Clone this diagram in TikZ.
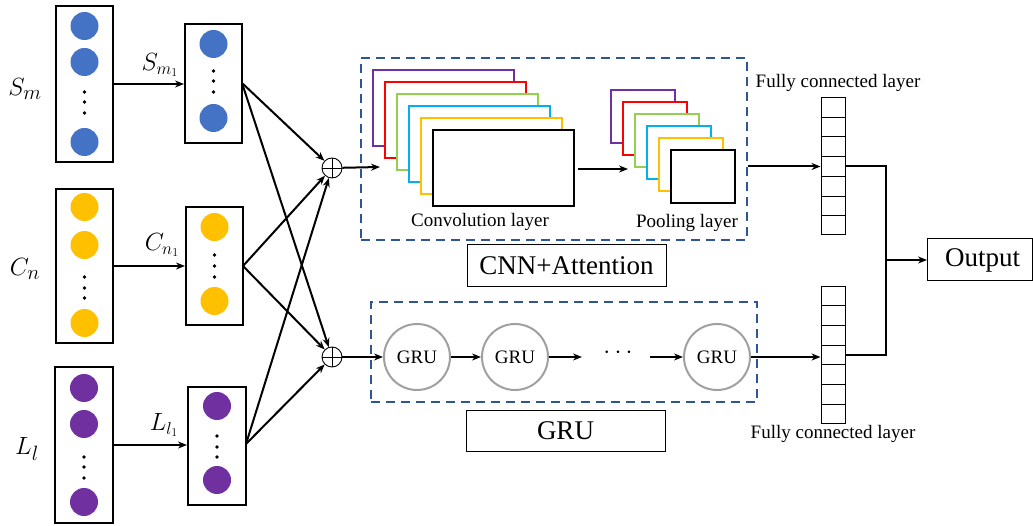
\documentclass[tikz,border=0pt]{standalone}
\usepackage{fontspec}
\setmainfont{Liberation Serif}
\usetikzlibrary{arrows.meta,calc}
\definecolor{cblue}{HTML}{4472C4}
\definecolor{cyel}{HTML}{FFC000}
\definecolor{cpur}{HTML}{7030A0}
\definecolor{cred}{HTML}{FF0000}
\definecolor{cgreen}{HTML}{92D050}
\definecolor{ccyan}{HTML}{00B0F0}
\definecolor{dashblue}{HTML}{2F5597}
\definecolor{gcircle}{HTML}{A0A0A0}
\tikzset{
  vecbox/.style={draw, line width=2pt, minimum width=57pt, inner sep=0pt},
  conn/.style={line width=2pt, -{Stealth[length=9pt,width=7pt]}},
  plainline/.style={line width=2pt},
  dashbox/.style={draw=dashblue, line width=2pt, dash pattern=on 9pt off 6pt},
  plusnode/.style={circle, draw, line width=0.9pt, minimum size=20pt, inner sep=0pt,
    path picture={\draw[line width=0.9pt] (path picture bounding box.north) -- (path picture bounding box.south)
      (path picture bounding box.west) -- (path picture bounding box.east);}},
  grunode/.style={circle, draw=gcircle, line width=2pt, minimum size=66pt, inner sep=0pt,
    font=\fontsize{19}{22}\selectfont},
  labelbox/.style={draw, line width=1pt, inner sep=0pt, font=\fontsize{27}{30}\selectfont},
  fcnode/.style={draw, line width=1pt, minimum width=24pt, minimum height=137pt, inner sep=0pt},
  smalltxt/.style={font=\fontsize{19}{22}\selectfont, inner sep=0pt},
  mathbig/.style={font=\fontsize{30}{34}\selectfont, inner sep=0pt},
  mathmid/.style={font=\fontsize{26}{30}\selectfont, inner sep=0pt},
}
\begin{document}
\begin{tikzpicture}[x=1pt,y=-1pt]
\useasboundingbox (0,0) rectangle (1033,526);
% ---- input vectors ----
\node[vecbox, minimum height=156pt] (Sm) at (84.5,84) {};
\node[vecbox, minimum height=119pt] (Sm1) at (213.5,83.5) {};
\node[vecbox, minimum height=154pt] (Cn) at (84.5,266) {};
\node[vecbox, minimum height=118pt] (Cn1) at (214.5,266) {};
\node[vecbox, minimum width=58pt, minimum height=156pt] (Ll) at (84,445) {};
\node[vecbox, minimum width=58pt, minimum height=118pt] (Ll1) at (217,446) {};
% circles
\foreach \y in {26,62,142} \fill[cblue] (84.5,\y) circle (14pt);
\foreach \y in {44,118} \fill[cblue] (213.5,\y) circle (14pt);
\foreach \y in {207,245,323} \fill[cyel] (84.5,\y) circle (14pt);
\foreach \y in {227,301} \fill[cyel] (214.5,\y) circle (14pt);
\foreach \y in {388,424,502} \fill[cpur] (84,\y) circle (14pt);
\foreach \y in {406,480} \fill[cpur] (217,\y) circle (14pt);
% dots
\foreach \y in {92,102,113} \fill (84.5,\y) circle (1.9pt);
\foreach \y in {71,81,92} \fill (213.5,\y) circle (1.9pt);
\foreach \y in {277,288,298} \fill (84.5,\y) circle (1.9pt);
\foreach \y in {255,266,277} \fill (214.5,\y) circle (1.9pt);
\foreach \y in {457,467,478} \fill (84,\y) circle (1.9pt);
\foreach \y in {436,447,457} \fill (217,\y) circle (1.9pt);
% labels
\node[mathbig] (lSm) at (25,89) {$S_m$};
\node[mathbig] (lCn) at (25,269) {$C_n$};
\node[mathbig] (lLl) at (27,449) {$L_l$};
\node[mathmid] (lSm1) at (160,65) {$S_{m_1}$};
\node[mathmid] (lCn1) at (162,245) {$C_{n_1}$};
\node[mathmid] (lLl1) at (164,425) {$L_{l_1}$};
\draw[conn] (Sm.east) -- (Sm.east -| Sm1.west);
\draw[conn] (Cn.east) -- (Cn.east -| Cn1.west);
\draw[conn] (Ll.east) -- (Ll.east -| Ll1.west);
% ---- plus nodes ----
\node[plusnode] (p1) at (332,168) {};
\node[plusnode] (p2) at (332,357) {};
\coordinate (o1) at (242,83);
\coordinate (o2) at (243,266);
\coordinate (o3) at (246,444);
\foreach \o in {o1,o2,o3} {
  \draw[conn] (\o) -- (p1);
  \draw[conn] (\o) -- (p2);
}
% ---- CNN block ----
\node[dashbox, minimum width=386pt, minimum height=182pt, inner sep=0pt] (cnnbox) at (554,149) {};
\foreach \c [count=\i from 0] in {cpur,cred,cgreen,ccyan,cyel,black} {
  \draw[draw=\c, fill=white, line width=2pt] (373+12*\i,70+12*\i) rectangle ++(141,76);
}
\coordinate (convR) at (578,169);
\coordinate (poolL) at (628,169);
\foreach \c [count=\i from 0] in {cpur,cred,cgreen,ccyan,cyel,black} {
  \draw[draw=\c, fill=white, line width=2pt] (611+12*\i,90+12*\i) rectangle ++(64,53);
}
\coordinate (cnnin) at (380,167);
\draw[conn] (p1) -- (cnnin);
\draw[conn] (convR) -- (poolL);
\node[smalltxt] (convtxt) at (480,222) {Convolution layer};
\node[smalltxt] (pooltxt) at (687,223) {Pooling layer};
\node[labelbox, minimum width=199pt, minimum height=42pt] (cnnlab) at (566.5,266) {CNN+Attention};
% ---- GRU block ----
\node[dashbox, minimum width=386pt, minimum height=100pt, inner sep=0pt] (grubox) at (564,352) {};
\node[grunode] (g1) at (417,357) {GRU};
\node[grunode] (g2) at (515,357) {GRU};
\node[grunode] (g4) at (717,357) {GRU};
\coordinate (g2out) at (582,357);
\coordinate (g4in) at (650,357);
\node[font=\fontsize{24}{26}\selectfont, inner sep=0pt] (dots) at (618,353) {$\cdots$};
\draw[conn] (p2) -- (g1);
\draw[conn] (g1) -- (g2);
\draw[conn] (g2) -- (g2out);
\draw[conn] (g4in) -- (g4);
\node[labelbox, minimum width=199pt, minimum height=41pt] (grulab) at (565.5,430.5) {GRU};
% ---- fully connected ----
\node[fcnode] (fc1) at (833,166.5) {};
\node[fcnode] (fc2) at (833,355) {};
\foreach \k in {1,...,6} {
  \draw[line width=1pt] ($(fc1.north west)!\k/7!(fc1.south west)$) -- ($(fc1.north east)!\k/7!(fc1.south east)$);
  \draw[line width=1pt] ($(fc2.north west)!\k/7!(fc2.south west)$) -- ($(fc2.north east)!\k/7!(fc2.south east)$);
}
\node[smalltxt] (fctxt1) at (838,83) {Fully connected layer};
\node[smalltxt] (fctxt2) at (833,434) {Fully connected layer};
\draw[conn] (cnnbox.east |- fc1.west) -- (fc1.west);
\draw[conn] (g4.east) -- (g4.east -| fc2.west);
% ---- output ----
\node[labelbox, minimum width=105pt, minimum height=42pt, anchor=west] (out) at (927,260) {\hspace*{5pt}Output};
\coordinate (j) at (886,260);
\draw[plainline] (fc1.east) -| (j) |- (fc2.east);
\draw[conn] (j) -- (out.west);
\end{tikzpicture}
\end{document}
